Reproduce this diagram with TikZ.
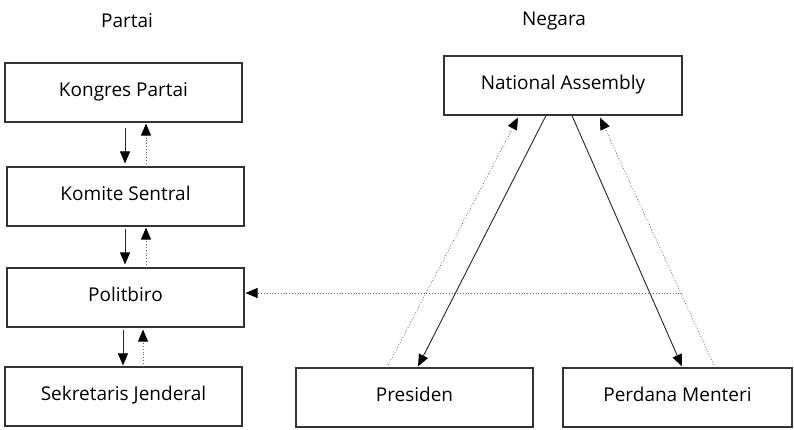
\documentclass[tikz,border=0pt]{standalone}
\usepackage{fontspec}
\setmainfont{Open Sans}
\usetikzlibrary{arrows.meta}
\tikzset{
  box/.style={draw=black!80, line width=1.1pt, rectangle, minimum width=237pt, minimum height=59pt, inner sep=0pt, font=\fontsize{19}{23}\selectfont},
  title/.style={inner sep=0pt, font=\fontsize{19}{23}\selectfont},
  solidarrow/.style={draw=black!85, line width=0.9pt, -{Triangle[length=12pt,width=10pt,color=black]}},
  dotarrow/.style={draw=black!60, line width=0.8pt, dotted, -{Triangle[length=12pt,width=10pt,color=black]}},
}
\newcommand{\up}[1]{\raisebox{5.5pt}{#1}}
\begin{document}
\begin{tikzpicture}[x=1pt,y=-1pt]
\useasboundingbox (0,0) rectangle (794,429);
\node[title] (partai) at (127,21) {Partai};
\node[title] (negara) at (554,21) {Negara};
\node[box] (kp) at (123.5,92.5) {\up{Kongres Partai}};
\node[box] (ks) at (125.5,196.5) {\up{Komite Sentral}};
\node[box] (pb) at (125.5,297.5) {\up{Politbiro}};
\node[box] (sj) at (123.5,396.5) {\up{Sekretaris Jenderal}};
\node[box, minimum width=238pt] (na) at (563,85.5) {\up{National Assembly}};
\node[box] (pr) at (414.5,397.5) {\up{Presiden}};
\node[box, minimum width=229pt] (pm) at (677.5,397.5) {\up{Perdana Menteri}};
% left column
\draw[solidarrow] ([xshift=1.5pt,yshift=-5pt]kp.south) -- ([xshift=-0.5pt,yshift=3pt]ks.north);
\draw[dotarrow] ([xshift=20.5pt]ks.north) -- ([xshift=22.5pt,yshift=-1pt]kp.south);
\draw[solidarrow] ([xshift=-0.5pt,yshift=-2pt]ks.south) -- ([xshift=-0.5pt,yshift=3pt]pb.north);
\draw[dotarrow] ([xshift=20.5pt]pb.north) -- ([xshift=20.5pt,yshift=-1pt]ks.south);
\draw[solidarrow] ([xshift=-2.5pt,yshift=-2pt]pb.south) -- ([xshift=-0.5pt,yshift=1pt]sj.north);
\draw[dotarrow] ([xshift=19.5pt]sj.north) -- ([xshift=17.5pt,yshift=-2pt]pb.south);
% right triangle
\draw[solidarrow] ([xshift=-17pt]na.south) -- ([xshift=3.5pt,yshift=1pt]pr.north);
\draw[dotarrow] ([xshift=-27.5pt]pr.north) -- ([xshift=-45pt,yshift=-2pt]na.south);
\draw[solidarrow] ([xshift=9pt]na.south) -- ([xshift=4.5pt,yshift=1pt]pm.north);
\draw[dotarrow] ([xshift=37.5pt]pm.north) -- ([xshift=37pt,yshift=-2pt]na.south);
% horizontal
\coordinate (hstart) at (682,293);
\draw[dotarrow] (hstart) -- ([xshift=1pt]hstart -| pb.east);
\end{tikzpicture}
\end{document}
